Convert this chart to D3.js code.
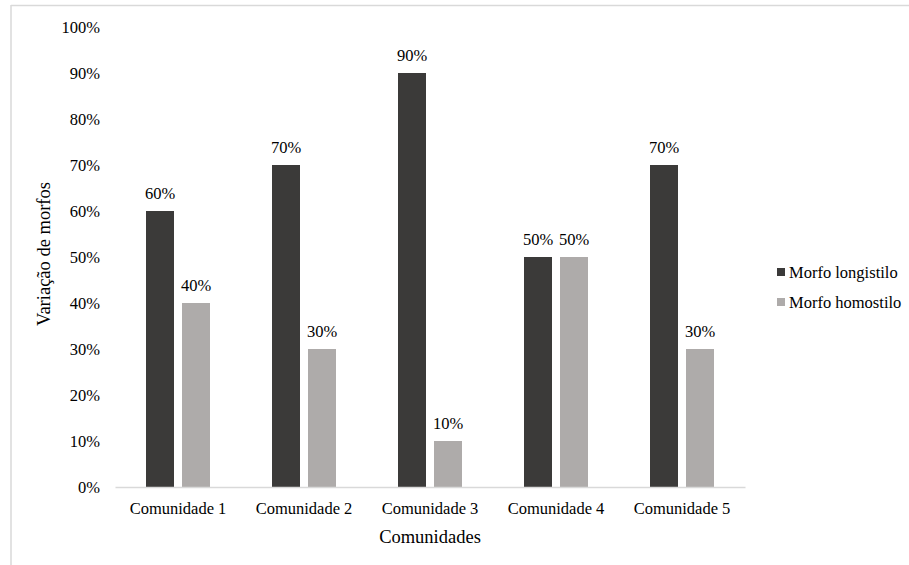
<!DOCTYPE html>
<html>
<head>
<meta charset="utf-8">
<script src="https://cdn.jsdelivr.net/npm/d3@7"></script>
<style>
  html, body { margin: 0; padding: 0; background: #fff; }
  svg { display: block; }
</style>
</head>
<body>
<script>
// Chart data
const categories = ["Comunidade 1", "Comunidade 2", "Comunidade 3", "Comunidade 4", "Comunidade 5"];
const seriesNames = ["Morfo longistilo", "Morfo homostilo"];
const longistilo = [0.60, 0.70, 0.90, 0.50, 0.70];
const homostilo = [0.40, 0.30, 0.10, 0.50, 0.30];
const yTicks = [0, 0.1, 0.2, 0.3, 0.4, 0.5, 0.6, 0.7, 0.8, 0.9, 1.0];
const colors = ["#3b3a39", "#aeabaa"];

const FONT = "'Liberation Serif', 'Times New Roman', serif";
const W = 909, H = 565;

const svg = d3.select("body").append("svg").attr("width", W).attr("height", H)
  .style("font-family", FONT);

// chart area frame (top and left edges visible)
svg.append("line").attr("x1", 11).attr("x2", W).attr("y1", 5.5).attr("y2", 5.5)
  .attr("stroke", "#d9d9d9").attr("stroke-width", 1.5);
svg.append("line").attr("x1", 11).attr("x2", 11).attr("y1", 5).attr("y2", H)
  .attr("stroke", "#d9d9d9").attr("stroke-width", 1.5);

const x = d3.scaleBand().domain(categories).range([115, 745]).padding(0);
const y = d3.scaleLinear().domain([0, 1]).range([487, 27]);

const barW = 28, innerGap = 8;
const rows = categories.map((c, i) => ({ c, vals: [longistilo[i], homostilo[i]] }));
const pct = d3.format(".0%");

function styleText(sel, size) {
  sel.style("font-family", FONT).style("font-size", size + "px").attr("fill", "#000");
}

// y axis labels
const yAxis = d3.axisLeft(y).tickValues(yTicks).tickFormat(pct).tickSize(0).tickPadding(15);
const gy = svg.append("g").attr("transform", "translate(115,0)").call(yAxis);
gy.select(".domain").remove();
gy.attr("font-family", null);
styleText(gy.selectAll("text"), 16.5);

// bars
const groups = svg.append("g").selectAll("g").data(rows).join("g")
  .attr("transform", d => `translate(${x(d.c) + x.bandwidth() / 2},0)`);

groups.selectAll("rect").data(d => d.vals.map((v, k) => ({ v, k }))).join("rect")
  .attr("x", d => d.k === 0 ? -innerGap / 2 - barW : innerGap / 2)
  .attr("width", barW)
  .attr("y", d => y(d.v))
  .attr("height", d => y(0) - y(d.v))
  .attr("fill", d => colors[d.k]);

const vals = groups.selectAll("text.val").data(d => d.vals.map((v, k) => ({ v, k }))).join("text")
  .attr("class", "val")
  .attr("x", d => d.k === 0 ? -innerGap / 2 - barW / 2 : innerGap / 2 + barW / 2)
  .attr("y", d => y(d.v) - 12)
  .attr("text-anchor", "middle")
  .text(d => pct(d.v));
styleText(vals, 16.5);

// x axis
const xAxis = d3.axisBottom(x).tickSize(0).tickPadding(15);
const gx = svg.append("g").attr("transform", "translate(0,487)").call(xAxis);
gx.attr("font-family", null);
gx.select(".domain").attr("stroke", "#d9d9d9").attr("stroke-width", 1.5);
styleText(gx.selectAll("text"), 16.5);

// axis titles
styleText(svg.append("text").attr("x", 430).attr("y", 543).attr("text-anchor", "middle")
  .text("Comunidades"), 18.5);
styleText(svg.append("text").attr("transform", "translate(50,254) rotate(-90)").attr("text-anchor", "middle")
  .text("Variação de morfos"), 18.5);

// legend
const legend = svg.append("g").selectAll("g").data(seriesNames).join("g")
  .attr("transform", (d, i) => `translate(777,${272 + i * 30})`);
legend.append("rect").attr("x", 0).attr("y", -4).attr("width", 8).attr("height", 8)
  .attr("fill", (d, i) => colors[i]);
styleText(legend.append("text").attr("x", 12).attr("y", 5.5).text(d => d), 16.5);
</script>
</body>
</html>
